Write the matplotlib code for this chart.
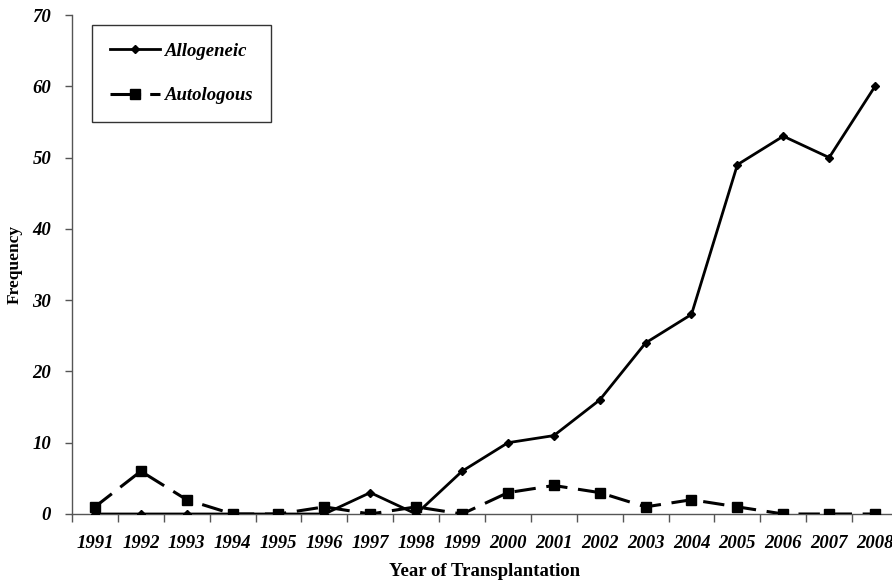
import numpy as np
import matplotlib
matplotlib.use("Agg")
import matplotlib.pyplot as plt

years = ["1991", "1992", "1993", "1994", "1995", "1996", "1997", "1998", "1999",
         "2000", "2001", "2002", "2003", "2004", "2005", "2006", "2007", "2008"]
allogeneic = [0, 0, 0, 0, 0, 0, 3, 0, 6, 10, 11, 16, 24, 28, 49, 53, 50, 60]
autologous = [1, 6, 2, 0, 0, 1, 0, 1, 0, 3, 4, 3, 1, 2, 1, 0, 0, 0]
yticks = [0, 10, 20, 30, 40, 50, 60, 70]

plt.rcParams['font.family'] = ['Liberation Serif', 'DejaVu Serif']

fig = plt.figure(figsize=(8.92, 5.83), dpi=100)
# axis runs a bit past the right edge, like the original crop
ax = fig.add_axes([72/892, 69/583, 826/892, 499/583])

x = np.arange(len(years))
ax.plot(x, allogeneic, color="black", lw=2.0, marker="D", ms=4.5,
        label="Allogeneic", zorder=3)
ax.plot(x, autologous, color="black", lw=2.2, marker="s", ms=7,
        dashes=(7, 3.5), label="Autologous", zorder=3)

ax.set_xlim(-0.5, len(years) - 0.5)
ax.set_ylim(0, 70)
ax.set_yticks(yticks)
ax.set_yticklabels([str(v) for v in yticks], fontsize=13.5,
                   fontweight="bold", fontstyle="italic")
ax.set_xticks(x)
ax.set_xticklabels(years, fontsize=13.5, fontweight="bold", fontstyle="italic")
ax.set_xticks(np.arange(len(years) + 1) - 0.5, minor=True)
ax.tick_params(axis="x", which="major", length=0, pad=15)
ax.tick_params(axis="x", which="minor", length=6, direction="out",
               color="#555555", width=1)
ax.tick_params(axis="y", length=5, direction="out", color="#555555",
               width=1, pad=10)

for s in ["top", "right"]:
    ax.spines[s].set_visible(False)
for s in ["left", "bottom"]:
    ax.spines[s].set_color("#555555")
    ax.spines[s].set_linewidth(1)

ax.set_ylabel("Frequency", fontsize=12.5, fontweight="bold", labelpad=7)
ax.set_xlabel("Year of Transplantation", fontsize=13.5, fontweight="bold",
              labelpad=8)

leg = ax.legend(loc="upper left", bbox_to_anchor=(20/826, 1 - 10/499),
                borderaxespad=0,
                prop={"size": 13.5, "weight": "bold", "style": "italic"},
                fancybox=False, frameon=True, edgecolor="black",
                borderpad=0.95, labelspacing=1.45, handlelength=2.7,
                handletextpad=0.25)
leg.get_frame().set_linewidth(1)
# longer first dash in the legend so the gap shows after the square
leg.get_lines()[1].set_dashes((10, 3))

fig.savefig("out.png", dpi=100)
